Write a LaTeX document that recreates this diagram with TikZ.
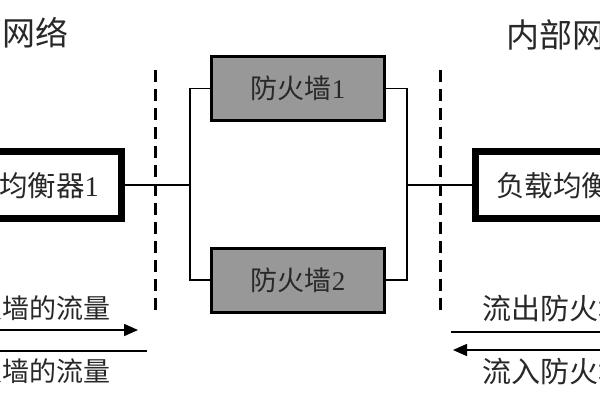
\documentclass[tikz,border=0pt]{standalone}
\usepackage{fontspec}
\setmainfont{Liberation Serif}
\newfontfamily\cjk{Noto Sans CJK SC}
\usetikzlibrary{arrows.meta}
\definecolor{fwgray}{RGB}{152,152,152}
\definecolor{txt}{RGB}{40,40,40}
\tikzset{
  fwbox/.style={draw=black, line width=3pt, fill=fwgray, minimum width=173pt, minimum height=64pt, inner sep=0pt, text=txt, font=\fontsize{27}{27}\selectfont},
  lbbox/.style={draw=black, line width=7pt, fill=white},
  conn/.style={line width=1.4pt},
  divider/.style={line width=3pt, dash pattern=on 12pt off 7pt},
  flow/.style={line width=1.6pt},
  lbl/.style={inner sep=0pt, text=txt, font=\fontsize{28.5}{28.5}\selectfont\cjk},
  lblL/.style={inner sep=0pt, text=txt, font=\fontsize{27}{27}\selectfont\cjk},
  lblR/.style={inner sep=0pt, text=txt, font=\fontsize{29}{29}\selectfont\cjk},
  title/.style={inner sep=0pt, text=txt, font=\fontsize{33}{33}\selectfont\cjk},
}
\begin{document}
\begin{tikzpicture}[x=1pt, y=-1pt]
\useasboundingbox (0,0) rectangle (600,400);
\clip (0,0) rectangle (600,400);
% titles
\node[title, anchor=east] (tl) at (69,33) {外部网络};
\node[title, anchor=west] (tr) at (506,35) {内部网络};
% dividers
\coordinate (dlt) at (155,70);
\coordinate (dlb) at (155,316);
\coordinate (drt) at (440,70);
\coordinate (drb) at (440,316);
\draw[divider] (dlt) -- (dlb);
\draw[divider] (drt) -- (drb);
% load balancers
\draw[lbbox] (-100,151.5) rectangle (121.5,218.5);
\node[lbl, anchor=east] (lb1) at (99,186) {负载均衡器\rmfamily 1};
\coordinate (lb1e) at (125,185);
\draw[lbbox] (475.5,151.5) rectangle (700,218.5);
\node[lbl, anchor=west] (lb2) at (496,186) {负载均衡器\rmfamily 2};
\coordinate (lb2w) at (472,185);
% firewalls
\node[fwbox] (fw1) at (298,88.5) {{\cjk 防火墙}1};
\node[fwbox] (fw2) at (298,280) {{\cjk 防火墙}2};
% connectors
\coordinate (jl) at (190,185);
\coordinate (jr) at (407,185);
\draw[conn] (lb1e) -- (jl);
\draw[conn] (jr) -- (lb2w);
\draw[conn] (fw1.west) -| (jl) |- (fw2.west);
\draw[conn] (fw1.east) -| (jr) |- (fw2.east);
% flow arrows left
\coordinate (a1s) at (-10,330);
\coordinate (a1e) at (138,330);
\draw[flow, -{Triangle[length=14pt,width=12pt]}] (a1s) -- (a1e);
\coordinate (a2s) at (-10,351);
\coordinate (a2e) at (147,351);
\draw[flow] (a2s) -- (a2e);
\node[lblL, anchor=east] (fl1) at (111,308) {流入防火墙的流量};
\node[lblL, anchor=east] (fl2) at (111,371) {流出防火墙的流量};
% flow arrows right
\coordinate (b1s) at (451,332);
\coordinate (b1e) at (610,332);
\draw[flow] (b1s) -- (b1e);
\coordinate (b2s) at (610,350);
\coordinate (b2e) at (453,350);
\draw[flow, -{Triangle[length=14pt,width=12pt]}] (b2s) -- (b2e);
\node[lblR, anchor=west] (fr1) at (482,308) {流出防火墙的流量};
\node[lblR, anchor=west] (fr2) at (482,371) {流入防火墙的流量};
\end{tikzpicture}
\end{document}
